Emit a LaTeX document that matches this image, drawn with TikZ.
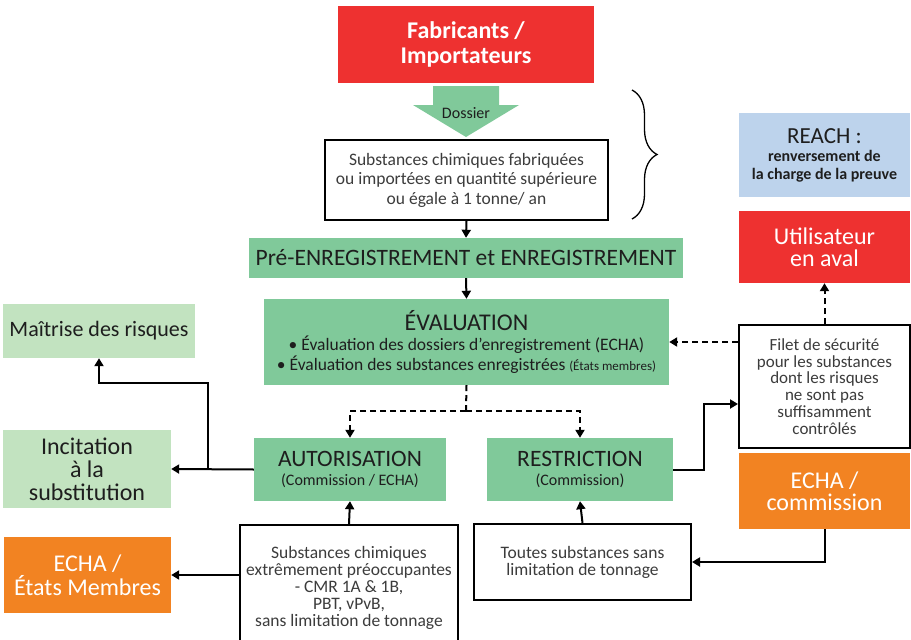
\documentclass[tikz,border=0pt]{standalone}
\usepackage{fontspec}
\setmainfont{Carlito}
\usetikzlibrary{arrows.meta,decorations.pathreplacing,calc}
\definecolor{cred}{HTML}{EE3130}
\definecolor{cgreen}{HTML}{80C99A}
\definecolor{clgreen}{HTML}{C2E3C0}
\definecolor{cblue}{HTML}{BDD3EC}
\definecolor{corange}{HTML}{F28322}
\definecolor{ctext}{HTML}{3C3C3C}
\definecolor{cdark}{HTML}{1E1E1E}
\newcommand\fsz[2]{\fontsize{#1}{#2}\selectfont}
\begin{document}
\begin{tikzpicture}[x=1pt,y=-1pt,
  box/.style={inner sep=0pt, align=center, anchor=center},
  wbox/.style={box, fill=white, draw=black, line width=2pt, text=ctext},
  gbox/.style={box, fill=cgreen, text=cdark},
  lgbox/.style={box, fill=clgreen, text=cdark},
  rbox/.style={box, fill=cred, text=white},
  obox/.style={box, fill=corange, text=white},
  arr/.style={line width=2pt, -{Triangle[width=9pt,length=8pt]}},
  dasharr/.style={arr, dash pattern=on 6pt off 4pt},
  dashline/.style={line width=2pt, dash pattern=on 6pt off 4pt}]
\clip (0,0) rectangle (911,640);
\fill[white] (0,0) rectangle (911,640);

% Fabricants
\node[rbox, minimum width=256pt, minimum height=77pt, font=\fsz{24}{25}\bfseries] (fab) at (466,44.5) {Fabricants /\\Importateurs};

% Dossier arrow shape
\fill[cgreen] (433,86) -- (499,86) -- (499,105) -- (519,105) -- (466,137) -- (413,105) -- (433,105) -- cycle;
\node[box, text=cdark, font=\fsz{16}{18}] (dos) at (466,113) {Dossier};

% Substances box
\node[wbox, minimum width=283pt, minimum height=80pt, font=\fsz{17.5}{19.5}] (sub) at (466.5,180) {Substances chimiques fabriquées\\ou importées en quantité supérieure\\ou égale à 1 tonne/ an};

% brace
\coordinate (bt) at (632,90);
\coordinate (bb) at (632,219);
\draw[line width=1.3pt, decorate, decoration={brace, amplitude=25pt}] (bt) -- (bb);

% Pre-enregistrement
\node[gbox, minimum width=434pt, minimum height=40pt, font=\fsz{23.5}{25}] (pre) at (466,258) {Pré-ENREGISTREMENT et ENREGISTREMENT};

% Evaluation
\node[gbox, minimum width=405pt, minimum height=86pt, font=\fsz{17.5}{20}] (eval) at (466.5,342) {{\fsz{24}{20}ÉVALUATION}\\• Évaluation des dossiers d’enregistrement (ECHA)\\• Évaluation des substances enregistrées {\fsz{13}{20}(États membres)}};

% Autorisation / Restriction
\node[gbox, minimum width=192pt, minimum height=63pt, font=\fsz{16}{19}] (aut) at (350,469.5) {{\fsz{23.5}{19}AUTORISATION}\\(Commission / ECHA)};
\node[gbox, minimum width=186pt, minimum height=63pt, font=\fsz{16}{19}] (res) at (580,469.5) {{\fsz{23.5}{19}RESTRICTION}\\(Commission)};

% left column
\node[lgbox, minimum width=192pt, minimum height=54pt, font=\fsz{22}{24}] (mai) at (99,331) {Maîtrise des risques};
\node[lgbox, minimum width=168pt, minimum height=78pt, font=\fsz{24}{23}] (inc) at (87,469) {Incitation\\à la\\substitution};
\node[obox, minimum width=167pt, minimum height=76pt, font=\fsz{24}{24}] (ee) at (87.5,575) {ECHA /\\États Membres};

% bottom boxes
\node[wbox, minimum width=218pt, minimum height=125pt, font=\fsz{17.5}{17}] (sxt) at (349,587.5) {Substances chimiques\\extrêmement préoccupantes\\- CMR 1A \& 1B,\\PBT, vPvB,\\sans limitation de tonnage};
\node[wbox, minimum width=217pt, minimum height=76pt, font=\fsz{17.5}{17}] (tou) at (582.5,562) {Toutes substances sans\\limitation de tonnage};

% right column
\node[box, fill=cblue, text=cdark, minimum width=171pt, minimum height=84pt, font=\fsz{16}{18}\bfseries] (reach) at (824.5,155) {{\mdseries\fsz{23}{18}REACH :}\\renversement de\\la charge de la preuve};
\node[rbox, minimum width=171pt, minimum height=72pt, font=\fsz{24}{22}] (uti) at (824.5,247) {Utilisateur\\en aval};
\node[wbox, minimum width=171pt, minimum height=123pt, font=\fsz{17}{16.7}] (fil) at (824.5,386.5) {Filet de sécurité\\pour les substances\\dont les risques\\ne sont pas\\suffisamment\\contrôlés};
\node[obox, minimum width=171pt, minimum height=76pt, font=\fsz{24}{22}] (ech) at (824.5,491) {ECHA /\\commission};

% connectors
\draw[arr] (sub.south) -- (pre.north);
\draw[arr] (pre.south) -- (eval.north);
\coordinate (dj) at (466,411);
\draw[dashline] (eval.south) -- (dj);
\draw[dasharr] (dj) -| (aut.north);
\draw[dasharr] (dj) -| (res.north);
\draw[arr] (sxt.north) -- (aut.south);
\draw[arr] (tou.north) -- (res.south);
\draw[arr] (aut.west) -- (inc.east);
\coordinate (bj) at (208,469);
\draw[arr] (bj) -- (208,383) -| (mai.south);
\draw[arr] (sxt.west |- ee.east) -- (ee.east);
\draw[arr] (res.east) -- ++(31,0) |- ([yshift=-17.5pt]fil.west);
\draw[dasharr] (fil.west |- eval.east) -- (eval.east);
\draw[dasharr] (fil.north) -- (uti.south);
\draw[arr] (ech.south) |- (tou.east);
\end{tikzpicture}
\end{document}
